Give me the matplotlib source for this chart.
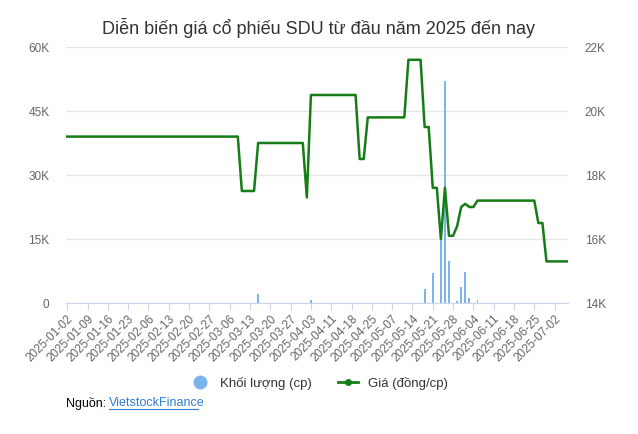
import matplotlib
matplotlib.use("Agg")
import matplotlib.pyplot as plt
from matplotlib.lines import Line2D
import pandas as pd
import numpy as np

plt.rcParams['font.family'] = ['Liberation Sans', 'DejaVu Sans']

holidays = ["2025-01-01", "2025-01-27", "2025-01-28", "2025-01-29", "2025-01-30", "2025-01-31",
            "2025-04-07", "2025-04-30", "2025-05-01", "2025-05-02"]
dates = [d for d in pd.bdate_range("2025-01-02", "2025-07-07") if d.strftime("%Y-%m-%d") not in holidays]
date_labels = [d.strftime("%Y-%m-%d") for d in dates]
n = len(date_labels)

# price segments (value, count)
price_segments = [(19.2, 43), (17.5, 4), (19.0, 12), (17.3, 1), (20.5, 12), (18.5, 2), (19.8, 10),
                  (21.6, 4), (19.5, 2), (17.6, 2), (16.0, 1), (17.6, 1), (16.1, 2), (16.4, 1),
                  (17.0, 1), (17.1, 1), (17.0, 2), (17.2, 15), (16.5, 2), (15.3, 6)]
price = []
for v, c in price_segments:
    price += [v * 1000] * c
price = price[:n] + [price[-1]] * (n - len(price))

vol_idx = [47, 60, 88, 90, 92, 93, 94, 96, 97, 98, 99, 101]
vol_val = [2200, 600, 3300, 7100, 16000, 52100, 9900, 500, 3800, 7300, 1200, 700]
volume = np.zeros(n)
for i, v in zip(vol_idx, vol_val):
    volume[i] = v

fig = plt.figure(figsize=(6.38, 4.34), dpi=100)
ax = fig.add_axes([66/638, 1-303/434, (568-66)/638, (303-47)/434])
ax2 = ax.twinx()
x = np.arange(n)
ax.bar(x, volume, width=0.45, color="#7cb5ec", zorder=2)
ax2.plot(x, price, color="#167d16", lw=1.8, zorder=3)

ax.set_ylim(0, 60000)
ax.set_yticks([0, 15000, 30000, 45000, 60000])
ax.set_yticklabels(["0", "15K", "30K", "45K", "60K"])
ax2.set_ylim(14000, 22000)
ax2.set_yticks([14000, 16000, 18000, 20000, 22000])
ax2.set_yticklabels(["14K", "16K", "18K", "20K", "22K"])
ax.set_xlim(-0.3, n - 0.7)
ax.set_xticks(x[::5])
ax.set_xticklabels(date_labels[::5], rotation=45, ha="right", rotation_mode="anchor", fontsize=8.5, color="#666666")
ax.grid(axis="y", color="#e6e6e6", lw=1, zorder=0)
ax.set_axisbelow(True)
for a in (ax, ax2):
    for s in ["top", "left", "right"]:
        a.spines[s].set_visible(False)
    a.tick_params(axis="y", length=0, labelsize=8.5, labelcolor="#666666")
ax.spines["bottom"].set_visible(False)
ax2.spines["bottom"].set_color("#ccd6eb")
ax.tick_params(axis="x", length=5, color="#ccd6eb", pad=2)
ax.tick_params(axis="y", pad=12)
ax2.tick_params(axis="y", pad=12)

fig.text(0.5, 1-28/434, "Diễn biến giá cổ phiếu SDU từ đầu năm 2025 đến nay", ha="center", va="center",
         fontsize=13, color="#333333")
handles = [Line2D([], [], marker="o", ls="none", color="#7cb5ec", markersize=9),
           Line2D([], [], marker="o", color="#167d16", lw=2, markersize=4)]
fig.legend(handles, ["Khối lượng (cp)", "Giá (đồng/cp)"], loc="center", bbox_to_anchor=(0.5, 1-383/434),
           ncol=2, frameon=False, fontsize=9.5, handlelength=1.5, columnspacing=2, labelcolor="#333333")
fig.text(66/638, 1-403/434, "Nguồn:", fontsize=9, va="center", color="#000000")
fig.text(109/638, 1-403/434, "VietstockFinance", fontsize=9, va="center", color="#2f7ed8", url="https://finance.vietstock.vn")
fig.add_artist(Line2D([109/638, 198/638], [1-409/434, 1-409/434], color="#2f7ed8", lw=0.8))
fig.savefig("out.png", dpi=100)
